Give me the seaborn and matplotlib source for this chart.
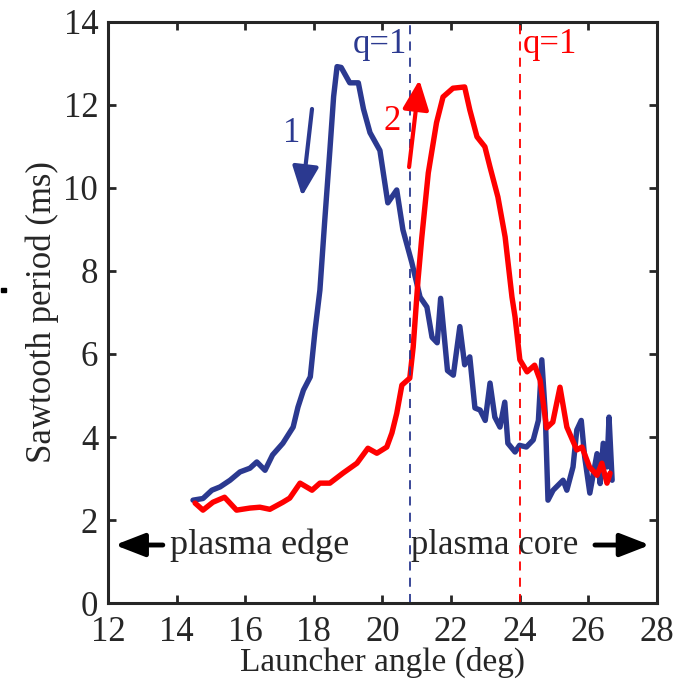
import matplotlib.pyplot as plt
import pandas as pd
import seaborn as sns

# blue scan (1)
blue_angle = [14.48, 14.77, 15.03, 15.27, 15.56, 15.85, 16.14, 16.34, 16.58, 16.8,
              17.1, 17.4, 17.54, 17.7, 17.9, 18.04, 18.18, 18.32, 18.47, 18.58,
              18.68, 18.8, 19.05, 19.3, 19.45, 19.64, 19.93, 20.16, 20.42, 20.6,
              20.86, 21.1, 21.3, 21.45, 21.6, 21.7, 21.9, 22.07, 22.26, 22.4,
              22.55, 22.7, 22.85, 23.0, 23.14, 23.28, 23.43, 23.57, 23.66, 23.87,
              24.0, 24.2, 24.4, 24.55, 24.65, 24.75, 24.83, 24.98, 25.27, 25.38,
              25.56, 25.67, 25.8, 25.9, 26.05, 26.26, 26.35, 26.44, 26.55, 26.61,
              26.7]
blue_period = [2.48, 2.52, 2.72, 2.8, 2.96, 3.16, 3.25, 3.4, 3.2, 3.57,
               3.85, 4.24, 4.72, 5.13, 5.45, 6.58, 7.54, 9.2, 10.9, 12.2,
               12.92, 12.9, 12.53, 12.53, 11.9, 11.33, 10.9, 9.64, 9.95, 8.99,
               8.2, 7.37, 7.13, 6.4, 6.27, 7.34, 5.6, 5.49, 6.66, 5.74,
               5.93, 4.7, 4.65, 4.4, 5.3, 4.48, 4.24, 4.84, 3.85, 3.64,
               3.8, 3.76, 3.93, 4.4, 5.86, 4.57, 2.48, 2.72, 2.96, 2.72,
               3.28, 4.17, 4.4, 3.52, 2.65, 3.6, 2.88, 3.85, 3.28, 4.48,
               2.96]

# red scan (2)
red_angle = [14.54, 14.77, 15.06, 15.4, 15.75, 16.14, 16.43, 16.72, 17.1, 17.3,
             17.6, 17.95, 18.18, 18.47, 18.85, 19.26, 19.58, 19.84, 20.13, 20.28,
             20.42, 20.57, 20.8, 20.9, 21.04, 21.15, 21.34, 21.58, 21.77, 22.06,
             22.4, 22.55, 22.76, 22.99, 23.14, 23.37, 23.58, 23.78, 23.87, 24.01,
             24.22, 24.44, 24.6, 24.79, 24.97, 25.18, 25.38, 25.67, 25.82, 26.04,
             26.26, 26.4, 26.55, 26.64]
red_period = [2.41, 2.24, 2.43, 2.55, 2.24, 2.29, 2.31, 2.26, 2.43, 2.53,
              2.89, 2.72, 2.89, 2.89, 3.13, 3.37, 3.73, 3.61, 3.76, 4.1,
              4.57, 5.25, 5.42, 6.17, 7.78, 8.8, 10.36, 11.57, 12.19, 12.4,
              12.43, 11.88, 11.23, 10.99, 10.5, 9.78, 8.82, 7.37, 6.89, 5.86,
              5.57, 5.73, 5.37, 4.22, 4.36, 5.2, 4.24, 3.69, 3.76, 3.28,
              3.08, 3.37, 2.89, 3.13]

q1_blue = 20.8
q1_red = 24.0

BLUE = "#2b3990"
RED = "#ff0000"
FS = 26

sns.set_style("ticks")
plt.rcParams["font.family"] = ["Liberation Serif", "DejaVu Serif"]

df = pd.concat([
    pd.DataFrame({"angle": blue_angle, "period": blue_period, "scan": "1"}),
    pd.DataFrame({"angle": red_angle, "period": red_period, "scan": "2"}),
])

fig = plt.figure(figsize=(6.92, 6.8), dpi=100)
ax = fig.add_axes([0.156, 0.113, 0.793, 0.855])

sns.lineplot(data=df, x="angle", y="period", hue="scan", palette=[BLUE, RED],
             sort=False, estimator=None, linewidth=3.9, legend=False, ax=ax)

ax.axvline(q1_blue, color=BLUE, linestyle=(0, (5, 4)), linewidth=1.3)
ax.axvline(q1_red, color=RED, linestyle=(0, (5, 4)), linewidth=1.3)
ax.text(q1_blue - 0.08, 13.45, "q=1", color=BLUE, fontsize=FS - 1, ha="right", va="center")
ax.text(q1_red + 0.08, 13.45, "q=1", color=RED, fontsize=FS - 1, ha="left", va="center")

# scan direction arrows
arrow_style = "-|>,head_length=0.9,head_width=0.4"
ax.annotate("", xy=(17.66, 9.8), xytext=(17.95, 11.9),
            arrowprops=dict(arrowstyle=arrow_style, color=BLUE, lw=3,
                            mutation_scale=20, shrinkA=0, shrinkB=0))
ax.text(17.6, 11.3, "1", color=BLUE, fontsize=FS - 1, ha="right", va="center")
ax.annotate("", xy=(21.08, 12.6), xytext=(20.78, 10.5),
            arrowprops=dict(arrowstyle=arrow_style, color=RED, lw=3,
                            mutation_scale=20, shrinkA=0, shrinkB=0))
ax.text(20.55, 11.6, "2", color=RED, fontsize=FS - 1, ha="right", va="center")

# region labels
side_style = "-|>,head_length=0.9,head_width=0.35"
ax.annotate("", xy=(12.2, 1.4), xytext=(13.6, 1.4),
            arrowprops=dict(arrowstyle=side_style, color="black", lw=3.5,
                            mutation_scale=20, shrinkA=0, shrinkB=0))
ax.text(13.8, 1.4, "plasma edge", fontsize=FS, ha="left", va="center")
ax.text(20.85, 1.4, "plasma core", fontsize=FS - 1, ha="left", va="center")
ax.annotate("", xy=(27.8, 1.4), xytext=(26.2, 1.4),
            arrowprops=dict(arrowstyle=side_style, color="black", lw=3.5,
                            mutation_scale=20, shrinkA=0, shrinkB=0))

ax.set_xlim(12, 28)
ax.set_ylim(0, 14)
ax.set_xticks(range(12, 29, 2))
ax.set_yticks(range(0, 15, 2))
ax.tick_params(direction="in", length=6, width=2, labelsize=FS - 1,
               top=True, right=True, pad=7)
ax.tick_params(axis="x", pad=9)
for s in ax.spines.values():
    s.set_linewidth(2.2)
    s.set_visible(True)
ax.set_xlabel("Launcher angle (deg)", fontsize=FS - 2)
ax.xaxis.set_label_coords(0.5, -0.075)
ax.set_ylabel("Sawtooth period (ms)", fontsize=FS - 1)
ax.yaxis.set_label_coords(-0.09, 0.5)

# stray mark left of the y label in the original
fig.add_artist(plt.Rectangle((0.002, 0.571), 0.006, 0.006, color="black",
                             transform=fig.transFigure))

fig.savefig("out.png", dpi=100)
